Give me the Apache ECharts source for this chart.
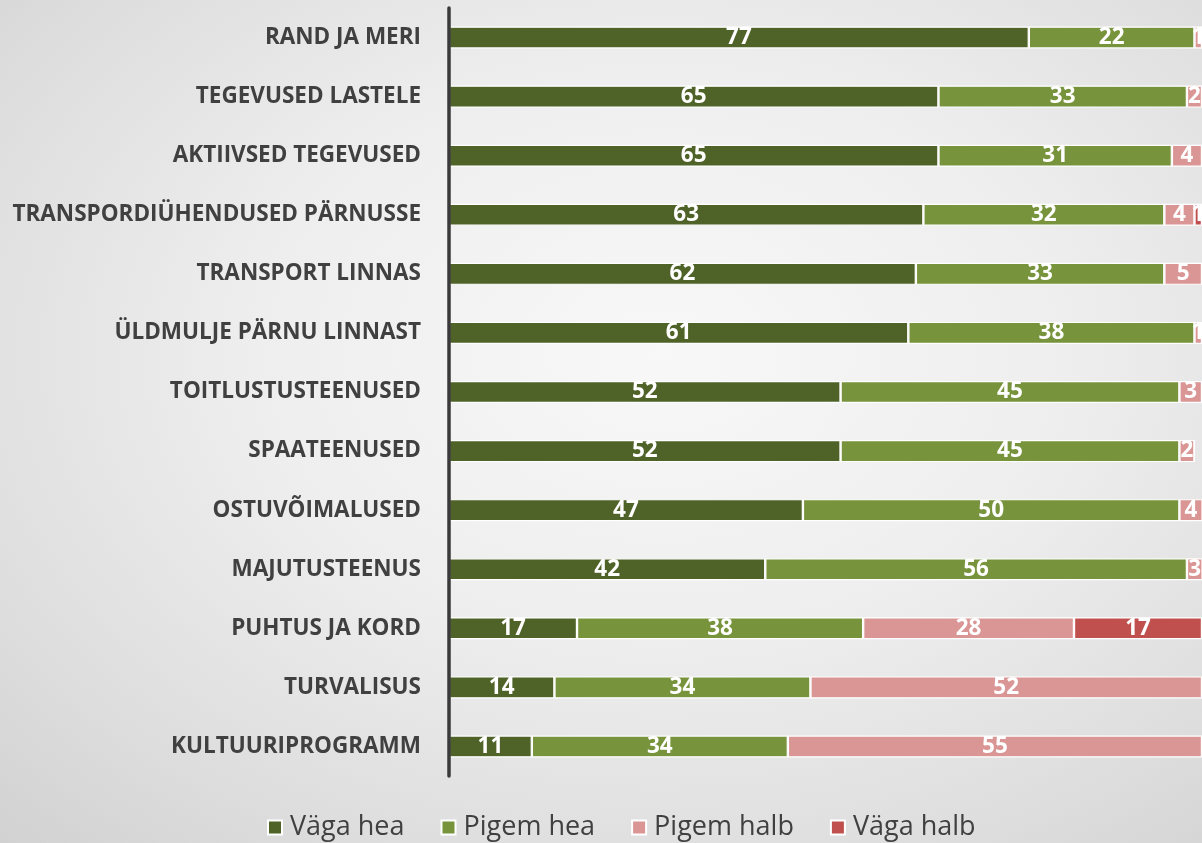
<!DOCTYPE html>
<html>
<head>
<meta charset="utf-8">
<script src="https://cdn.jsdelivr.net/npm/echarts@6/dist/echarts.min.js"></script>
<style>
html,body{margin:0;padding:0;width:1202px;height:843px;overflow:hidden;}
body{background:radial-gradient(ellipse 85% 85% at 55% 42%, #f8f8f8 0%, #eeeeee 40%, #dedede 72%, #cecece 100%);}
#c{width:1202px;height:843px;}
</style>
</head>
<body>
<div id="c"></div>
<script>
const categories = [
  "RAND JA MERI",
  "TEGEVUSED LASTELE",
  "AKTIIVSED TEGEVUSED",
  "TRANSPORDIÜHENDUSED PÄRNUSSE",
  "TRANSPORT LINNAS",
  "ÜLDMULJE PÄRNU LINNAST",
  "TOITLUSTUSTEENUSED",
  "SPAATEENUSED",
  "OSTUVÕIMALUSED",
  "MAJUTUSTEENUS",
  "PUHTUS JA KORD",
  "TURVALISUS",
  "KULTUURIPROGRAMM"
];
const seriesNames = ["Väga hea", "Pigem hea", "Pigem halb", "Väga halb"];
const vagaHea  = [77, 65, 65, 63, 62, 61, 52, 52, 47, 42, 17, 14, 11];
const pigemHea = [22, 33, 31, 32, 33, 38, 45, 45, 50, 56, 38, 34, 34];
const pigemHalb= [1, 2, 4, 4, 5, 1, 3, 2, 4, 3, 28, 52, 55];
const vagaHalb = [0, 0, 0, 1, 0, 0, 0, 0, 0, 0, 17, 0, 1];
const colors = ["#4f6228", "#77933c", "#d99694", "#c0504d"];

const chart = echarts.init(document.getElementById('c'), null, {renderer:'canvas'});
const dataSets = [vagaHea, pigemHea, pigemHalb, vagaHalb];
const series = seriesNames.map((name, i) => ({
  name: name,
  type: 'bar',
  stack: 'total',
  barWidth: 22,
  data: dataSets[i],
  itemStyle: {color: colors[i], borderColor: '#ffffff', borderWidth: 1.2},
  label: {
    show: true,
    position: 'inside',
    color: '#ffffff',
    fontFamily: 'Open Sans',
    fontWeight: 'bold',
    fontSize: 22.5,
    formatter: p => p.value === 0 ? '' : String(p.value)
  },
  emphasis: {disabled: true}
}));

chart.setOption({
  backgroundColor: 'transparent',
  animation: false,
  grid: {left: 449, width: 754, top: 8, height: 768, containLabel: false},
  xAxis: {type: 'value', min: 0, max: 100, show: false},
  yAxis: {
    type: 'category',
    data: categories,
    inverse: true,
    z: 10,
    axisLine: {show: true, onZero: false, lineStyle: {color: '#3a3a3a', width: 3.5}},
    axisTick: {show: false},
    axisLabel: {
      margin: 28,
      color: '#404040',
      fontFamily: 'Open Sans',
      fontWeight: 'bold',
      fontSize: 22.5
    }
  },
  legend: {
    data: seriesNames,
    left: 262,
    top: 809,
    icon: 'rect',
    itemWidth: 14,
    itemHeight: 14,
    itemGap: 36,
    textStyle: {color: '#404040', fontFamily: 'Open Sans', fontSize: 27, padding: [0,0,0,3]}
  },
  series: series
});
</script>
</body>
</html>
